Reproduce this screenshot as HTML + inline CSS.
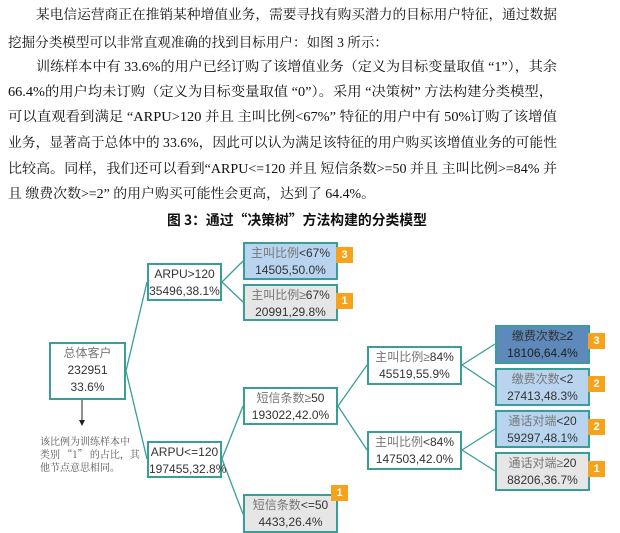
<!DOCTYPE html>
<html><head><meta charset="utf-8"><style>
body{margin:0;width:620px;height:533px;background:#fff;position:relative;overflow:hidden;font-family:"Liberation Serif","Noto Serif CJK SC",serif;}
.b{position:absolute;box-sizing:border-box;border:2px solid #3a9e98;background:#fff;text-align:center;font-family:"Liberation Sans","Noto Sans CJK SC",sans-serif;font-size:12px;color:#333;line-height:17px;padding-top:1px;}
.b .c{color:#777;}
.g{background:#e6e6e6;}
.lb{background:#b8d4ef;}
.db{background:#5e8abb;}
.bd{position:absolute;width:17px;height:16px;background:#f7a21b;color:#fff;font:bold 11px "Liberation Sans",sans-serif;text-align:center;line-height:16px;}
</style></head><body>
<svg style="position:absolute;left:0;top:0" width="620" height="533">
<g font-family="Liberation Serif, Noto Serif CJK SC, serif" font-size="13.5" fill="#111">
<text x="36" y="19" textLength="521" lengthAdjust="spacingAndGlyphs">某电信运营商正在推销某种增值业务，需要寻找有购买潜力的目标用户特征，通过数据</text>
<text x="8" y="47" textLength="380" lengthAdjust="spacingAndGlyphs">挖掘分类模型可以非常直观准确的找到目标用户：如图 3 所示：</text>
<text x="36" y="71" textLength="521" lengthAdjust="spacingAndGlyphs">训练样本中有 33.6%的用户已经订购了该增值业务（定义为目标变量取值 “1”），其余</text>
<text x="8" y="96" textLength="545" lengthAdjust="spacingAndGlyphs">66.4%的用户均未订购（定义为目标变量取值 “0”）。采用 “决策树” 方法构建分类模型，</text>
<text x="8" y="121" textLength="549" lengthAdjust="spacingAndGlyphs">可以直观看到满足 “ARPU&gt;120 并且 主叫比例&lt;67%” 特征的用户中有 50%订购了该增值</text>
<text x="8" y="147" textLength="549" lengthAdjust="spacingAndGlyphs">业务，显著高于总体中的 33.6%，因此可以认为满足该特征的用户购买该增值业务的可能性</text>
<text x="8" y="173" textLength="549" lengthAdjust="spacingAndGlyphs">比较高。同样，我们还可以看到“ARPU&lt;=120 并且 短信条数&gt;=50 并且 主叫比例&gt;=84% 并</text>
<text x="8" y="198" textLength="367" lengthAdjust="spacingAndGlyphs">且 缴费次数&gt;=2” 的用户购买可能性会更高，达到了 64.4%。</text>
</g>
<text x="167" y="225" textLength="260" lengthAdjust="spacingAndGlyphs" font-family="Noto Sans CJK SC, sans-serif" font-size="14" font-weight="bold" fill="#111">图 3：通过“决策树”方法构建的分类模型</text>
<g stroke="#3a9e98" stroke-width="1.3" fill="none">
<path d="M126 371 L147 282 M126 371 L147 459"/>
<path d="M222 282 L243 261 M222 282 L243 302"/>
<path d="M222 459 L243 406 M222 459 L243 514"/>
<path d="M338 406 L367 365 M338 406 L367 450"/>
<path d="M462 365 L495 344 M462 365 L495 387"/>
<path d="M462 450 L495 429 M462 450 L495 471"/>
</g>
<line x1="82" y1="400" x2="82" y2="421" stroke="#222" stroke-width="1"/>
<path d="M79 420 L85 420 L82 426 Z" fill="#222"/>
</svg>

<div class="b" style="left:49px;top:342px;width:77px;height:58px"><span class="c">总体客户</span><br>232951<br>33.6%</div>
<div class="b" style="left:147px;top:263px;width:75px;height:38px">ARPU&gt;120<br>35496,38.1%</div>
<div class="b" style="left:147px;top:441px;width:75px;height:37px">ARPU&lt;=120<br>197455,32.8%</div>
<div class="b lb" style="left:243px;top:242px;width:95px;height:38px"><span class="c">主叫比例</span>&lt;67%<br>14505,50.0%</div>
<div class="b g" style="left:243px;top:284px;width:95px;height:37px"><span class="c">主叫比例≥</span>67%<br>20991,29.8%</div>
<div class="b" style="left:243px;top:387px;width:95px;height:38px"><span class="c">短信条数≥</span>50<br>193022,42.0%</div>
<div class="b g" style="left:243px;top:494px;width:95px;height:39px"><span class="c">短信条数</span>&lt;=50<br>4433,26.4%</div>
<div class="b" style="left:367px;top:346px;width:95px;height:39px"><span class="c">主叫比例≥</span>84%<br>45519,55.9%</div>
<div class="b" style="left:367px;top:431px;width:95px;height:39px"><span class="c">主叫比例</span>&lt;84%<br>147503,42.0%</div>
<div class="b db" style="left:495px;top:325px;width:95px;height:39px;color:#222"><span style="color:#333">缴费次数≥</span>2<br>18106,64.4%</div>
<div class="b lb" style="left:495px;top:368px;width:95px;height:38px"><span class="c">缴费次数</span>&lt;2<br>27413,48.3%</div>
<div class="b lb" style="left:495px;top:410px;width:95px;height:38px"><span class="c">通话对端</span>&lt;20<br>59297,48.1%</div>
<div class="b g" style="left:495px;top:452px;width:95px;height:39px"><span class="c">通话对端≥</span>20<br>88206,36.7%</div>

<div class="bd" style="left:336px;top:247px">3</div>
<div class="bd" style="left:336px;top:293px">1</div>
<div class="bd" style="left:331px;top:485px">1</div>
<div class="bd" style="left:588px;top:333px">3</div>
<div class="bd" style="left:588px;top:376px">2</div>
<div class="bd" style="left:588px;top:419px">2</div>
<div class="bd" style="left:588px;top:461px">1</div>

<div style="position:absolute;left:40px;top:434px;width:110px;font-family:'Noto Serif CJK SC',serif;font-size:10px;line-height:13px;color:#555;white-space:nowrap">该比例为训练样本中<br>类别 “1” 的占比，其<br>他节点意思相同。</div>
</body></html>
